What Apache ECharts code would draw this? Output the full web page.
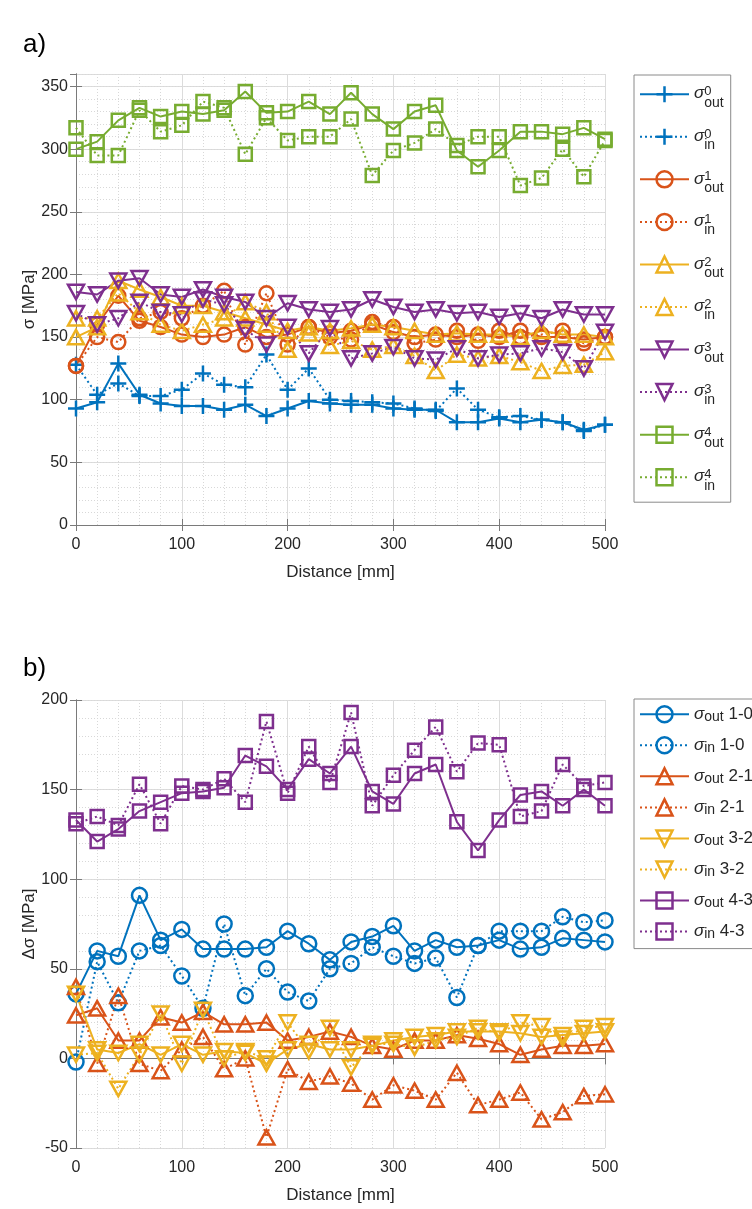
<!DOCTYPE html>
<html>
<head>
<meta charset="utf-8">
<script src="https://cdn.jsdelivr.net/npm/echarts@6.0.0/dist/echarts.min.js"></script>
<style>
  html, body { margin: 0; padding: 0; background: #fff; }
  #chart { width: 752px; height: 1209px; }
</style>
</head>
<body>
<div id="chart"></div>
<script>
// distance along the part, mm
const distance = [0, 20, 40, 60, 80, 100, 120, 140, 160, 180, 200, 220, 240, 260, 280, 300, 320, 340, 360, 380, 400, 420, 440, 460, 480, 500]

// a) stress per stage, MPa
const out0 = [93, 98, 129, 104, 97, 95, 95, 92, 96, 87, 93, 99, 97, 96, 96, 93, 92, 92, 82, 82, 85, 82, 84, 82, 76, 80]
const in0 = [128, 104, 113, 103, 103, 108, 121, 112, 110, 136, 108, 125, 100, 99, 98, 97, 93, 91, 109, 92, 86, 87, 84, 82, 75, 80]
const out1 = [127, 160, 183, 163, 158, 152, 150, 152, 158, 150, 152, 158, 153, 155, 160, 154, 150, 152, 150, 152, 150, 155, 150, 150, 148, 150]
const in1 = [127, 150, 146, 165, 170, 165, 175, 187, 144, 185, 144, 158, 150, 148, 162, 158, 145, 148, 155, 147, 155, 150, 152, 155, 145, 150]
const out2 = [150, 158, 195, 188, 182, 175, 175, 170, 165, 160, 155, 158, 155, 157, 160, 158, 155, 152, 153, 152, 152, 150, 155, 152, 152, 150]
const in2 = [165, 165, 185, 170, 160, 155, 160, 165, 178, 170, 140, 153, 143, 147, 140, 143, 135, 123, 136, 133, 135, 130, 123, 127, 128, 138]
const out3 = [186, 184, 195, 197, 184, 182, 188, 182, 178, 165, 177, 172, 170, 172, 180, 174, 170, 172, 169, 170, 166, 169, 165, 172, 168, 168]
const in3 = [169, 160, 165, 178, 170, 168, 180, 176, 156, 144, 158, 137, 157, 133, 137, 142, 133, 132, 141, 133, 136, 137, 141, 138, 125, 154]
const out4 = [300, 306, 323, 333, 326, 330, 328, 331, 346, 329, 330, 338, 328, 345, 328, 316, 330, 335, 299, 286, 299, 314, 314, 312, 317, 308]
const in4 = [317, 295, 295, 331, 314, 319, 338, 333, 296, 325, 307, 310, 310, 324, 279, 299, 305, 316, 303, 310, 310, 271, 277, 300, 278, 307]

// b) stress change between stages, MPa
const out10 = [36, 60, 57, 91, 66, 72, 61, 61, 61, 62, 71, 64, 55, 65, 68, 74, 60, 66, 62, 63, 66, 61, 62, 67, 66, 65]
const in10 = [-2, 54, 31, 60, 63, 46, 28, 75, 35, 50, 37, 32, 50, 53, 62, 57, 53, 56, 34, 63, 71, 71, 71, 79, 76, 77]
const out21 = [24, 28, 10, 10, 23, 20, 26, 19, 19, 20, 10, 12, 15, 12, 7, 5, 10, 10, 13, 11, 8, 2, 5, 7, 7, 8]
const in21 = [40, -3, 35, -3, -7, 5, 12, -6, 0, -44, -6, -13, -10, -14, -23, -15, -18, -23, -8, -26, -23, -19, -34, -30, -21, -20]
const out32 = [36, 5, 3, 8, 2, 8, 2, 4, 3, -3, 5, 8, 5, 5, 7, 10, 12, 13, 15, 15, 15, 14, 12, 13, 14, 15]
const in32 = [2, 3, -17, 2, 25, -3, 27, 0, 4, 0, 20, 4, 17, -5, 8, 8, 6, 10, 12, 17, 14, 20, 18, 11, 17, 18]
const out43 = [133, 121, 128, 138, 143, 148, 149, 151, 169, 163, 150, 167, 159, 174, 149, 142, 159, 164, 132, 116, 133, 147, 149, 141, 150, 141]
const in43 = [131, 135, 130, 153, 131, 152, 150, 156, 143, 188, 148, 174, 154, 193, 141, 158, 172, 185, 160, 176, 175, 135, 138, 164, 152, 154]

const BLUE = '#0072BD'
const RED = '#D95319'
const YELLOW = '#EDB120'
const PURPLE = '#7E2F8E'
const GREEN = '#77AC30'
const FONT = 'Liberation Sans, Arial, sans-serif'
const AXIS = '#7a7a7a'
const TEXT = '#262626'

const PLUS = 'path://M5,0L5,10M0,5L10,5'
const TRI_UP = 'path://M5,0L10,9L0,9Z'
const TRI_DOWN = 'path://M0,0L10,0L5,9Z'
const DOTS = [2, 3]

const makeLine = (name, values, color, symbol, size, dotted, g) => ({
  name,
  type: 'line',
  xAxisIndex: g * 2,
  yAxisIndex: g === 0 ? 0 : 3,
  data: distance.map((d, i) => [d, values[i]]),
  symbol,
  symbolSize: size,
  symbolKeepAspect: true,
  lineStyle: { color, width: 2, type: dotted ? DOTS : 'solid' },
  itemStyle: { color: 'rgba(0,0,0,0)', borderColor: color, borderWidth: 2.5 },
  emphasis: { disabled: true },
  z: 3
})

const topSeries = [
  makeLine('out0', out0, BLUE, PLUS, 16, false, 0),
  makeLine('in0', in0, BLUE, PLUS, 16, true, 0),
  makeLine('out1', out1, RED, 'circle', 14, false, 0),
  makeLine('in1', in1, RED, 'circle', 14, true, 0),
  makeLine('out2', out2, YELLOW, TRI_UP, 16, false, 0),
  makeLine('in2', in2, YELLOW, TRI_UP, 16, true, 0),
  makeLine('out3', out3, PURPLE, TRI_DOWN, 16, false, 0),
  makeLine('in3', in3, PURPLE, TRI_DOWN, 16, true, 0),
  makeLine('out4', out4, GREEN, 'rect', 13, false, 0),
  makeLine('in4', in4, GREEN, 'rect', 13, true, 0)
]
const bottomSeries = [
  makeLine('out1-0', out10, BLUE, 'circle', 15, false, 1),
  makeLine('in1-0', in10, BLUE, 'circle', 15, true, 1),
  makeLine('out2-1', out21, RED, TRI_UP, 16, false, 1),
  makeLine('in2-1', in21, RED, TRI_UP, 16, true, 1),
  makeLine('out3-2', out32, YELLOW, TRI_DOWN, 16, false, 1),
  makeLine('in3-2', in32, YELLOW, TRI_DOWN, 16, true, 1),
  makeLine('out4-3', out43, PURPLE, 'rect', 13, false, 1),
  makeLine('in4-3', in43, PURPLE, 'rect', 13, true, 1)
]

const legendData = list => list.map(s => ({
  name: s.name,
  itemStyle: { color: 'rgba(0,0,0,0)', borderColor: s.lineStyle.color, borderWidth: 2.5 },
  lineStyle: { color: s.lineStyle.color, width: 2, type: s.lineStyle.type }
}))

const sigma = { fontSize: 17, fontStyle: 'italic', fontFamily: FONT, color: TEXT }

const xAxes = g => [
  {
    gridIndex: g, type: 'value', min: 0, max: 500, interval: 100,
    name: 'Distance [mm]', nameLocation: 'middle', nameGap: 39,
    nameTextStyle: { fontSize: 17, fontFamily: FONT, color: TEXT },
    axisLine: { show: true, lineStyle: { color: AXIS, width: 1 } },
    axisTick: { show: true, inside: true, length: 6, lineStyle: { color: AXIS } },
    axisLabel: { fontSize: 16, fontFamily: FONT, color: TEXT, margin: 12 },
    splitLine: { show: true, lineStyle: { color: '#dcdcdc', width: 1 } },
    minorTick: { show: false, splitNumber: 5 },
    minorSplitLine: { show: true, lineStyle: { color: '#d8d8d8', width: 1, type: [1, 2] } }
  },
  {
    gridIndex: g, type: 'value', position: 'top', min: 0, max: 500, interval: 100,
    axisLine: { show: true, lineStyle: { color: AXIS, width: 1 } },
    axisTick: { show: true, inside: true, length: 6, lineStyle: { color: AXIS } },
    axisLabel: { show: false },
    splitLine: { show: false }
  }
]

const yAxes = (g, min, max, name) => [
  {
    gridIndex: g, type: 'value', position: 'left', min, max, interval: 50,
    name, nameLocation: 'middle', nameGap: 38, nameMoveOverlap: false,
    nameTextStyle: { fontSize: 17, fontFamily: FONT, color: TEXT },
    axisLine: { show: true, lineStyle: { color: AXIS, width: 1 } },
    axisTick: { show: true, inside: true, length: 6, lineStyle: { color: AXIS } },
    axisLabel: { fontSize: 16, fontFamily: FONT, color: TEXT, margin: 8, showMaxLabel: max % 50 === 0 },
    splitLine: { show: true, lineStyle: { color: '#dcdcdc', width: 1 } }
  },
  {
    gridIndex: g, type: 'value', position: 'right', min, max, interval: 50,
    axisLine: { show: true, lineStyle: { color: AXIS, width: 1 } },
    axisTick: { show: true, inside: true, length: 6, lineStyle: { color: AXIS } },
    axisLabel: { show: false },
    splitLine: { show: false }
  },
  {
    // minor grid every 10 MPa
    gridIndex: g, type: 'value', position: 'left', min, max, interval: 10,
    axisLine: { show: false },
    axisTick: { show: false },
    axisLabel: { show: false },
    splitLine: { show: true, lineStyle: { color: '#d8d8d8', width: 1, type: [1, 2] } },
    z: 0
  }
]

const myChart = echarts.init(document.getElementById('chart'), null, { renderer: 'canvas' })
const option = {
  animation: false,
  backgroundColor: '#fff',
  title: [
    { text: 'a)', left: 18, top: 27, textStyle: { fontSize: 26, fontWeight: 'normal', fontFamily: FONT, color: '#000' } },
    { text: 'b)', left: 18, top: 651, textStyle: { fontSize: 26, fontWeight: 'normal', fontFamily: FONT, color: '#000' } }
  ],
  grid: [
    { left: 76, top: 74, width: 529, height: 451, outerBoundsMode: 'none' },
    { left: 76, top: 700, width: 529, height: 448, outerBoundsMode: 'none' }
  ],
  xAxis: [...xAxes(0), ...xAxes(1)],
  yAxis: [...yAxes(0, 0, 360, 'σ [MPa]'), ...yAxes(1, -50, 200, 'Δσ [MPa]')],
  legend: [
    {
      orient: 'vertical', left: 634, top: 75,
      padding: [10, 7, 8, 5], itemGap: 16.3, itemWidth: 49, itemHeight: 20,
      backgroundColor: '#fff', borderColor: '#8a8a8a', borderWidth: 1, borderRadius: 0,
      selectedMode: false,
      data: legendData(topSeries),
      formatter: name => {
        const m = name.match(/^(out|in)(\d)$/)
        return `{s|σ}{sup|${m[2]}}\n{ph|σ}{sub|${m[1]}}`
      },
      textStyle: {
        color: TEXT, fontFamily: FONT,
        rich: {
          s: { ...sigma, lineHeight: 17 },
          sup: { fontSize: 13, fontFamily: FONT, color: TEXT, lineHeight: 3, verticalAlign: 'top' },
          ph: { ...sigma, color: 'rgba(0,0,0,0)', lineHeight: 1 },
          sub: { fontSize: 14, fontFamily: FONT, color: TEXT, lineHeight: 1 }
        }
      }
    },
    {
      orient: 'vertical', left: 634, top: 699,
      padding: [6, 40, 7, 5], itemGap: 11.8, itemWidth: 49, itemHeight: 20,
      backgroundColor: '#fff', borderColor: '#8a8a8a', borderWidth: 1, borderRadius: 0,
      selectedMode: false,
      data: legendData(bottomSeries),
      formatter: name => {
        const m = name.match(/^(out|in)(\d-\d)$/)
        return `{s|σ}{sub|${m[1]}}{t| ${m[2]}}`
      },
      textStyle: {
        color: TEXT, fontFamily: FONT,
        rich: {
          s: { ...sigma, lineHeight: 20 },
          sub: { fontSize: 14, fontFamily: FONT, color: TEXT, lineHeight: 2, verticalAlign: 'bottom' },
          t: { fontSize: 17, fontFamily: FONT, color: TEXT, lineHeight: 20 }
        }
      }
    }
  ],
  series: [...topSeries, ...bottomSeries]
}
myChart.setOption(option)
</script>
</body>
</html>
